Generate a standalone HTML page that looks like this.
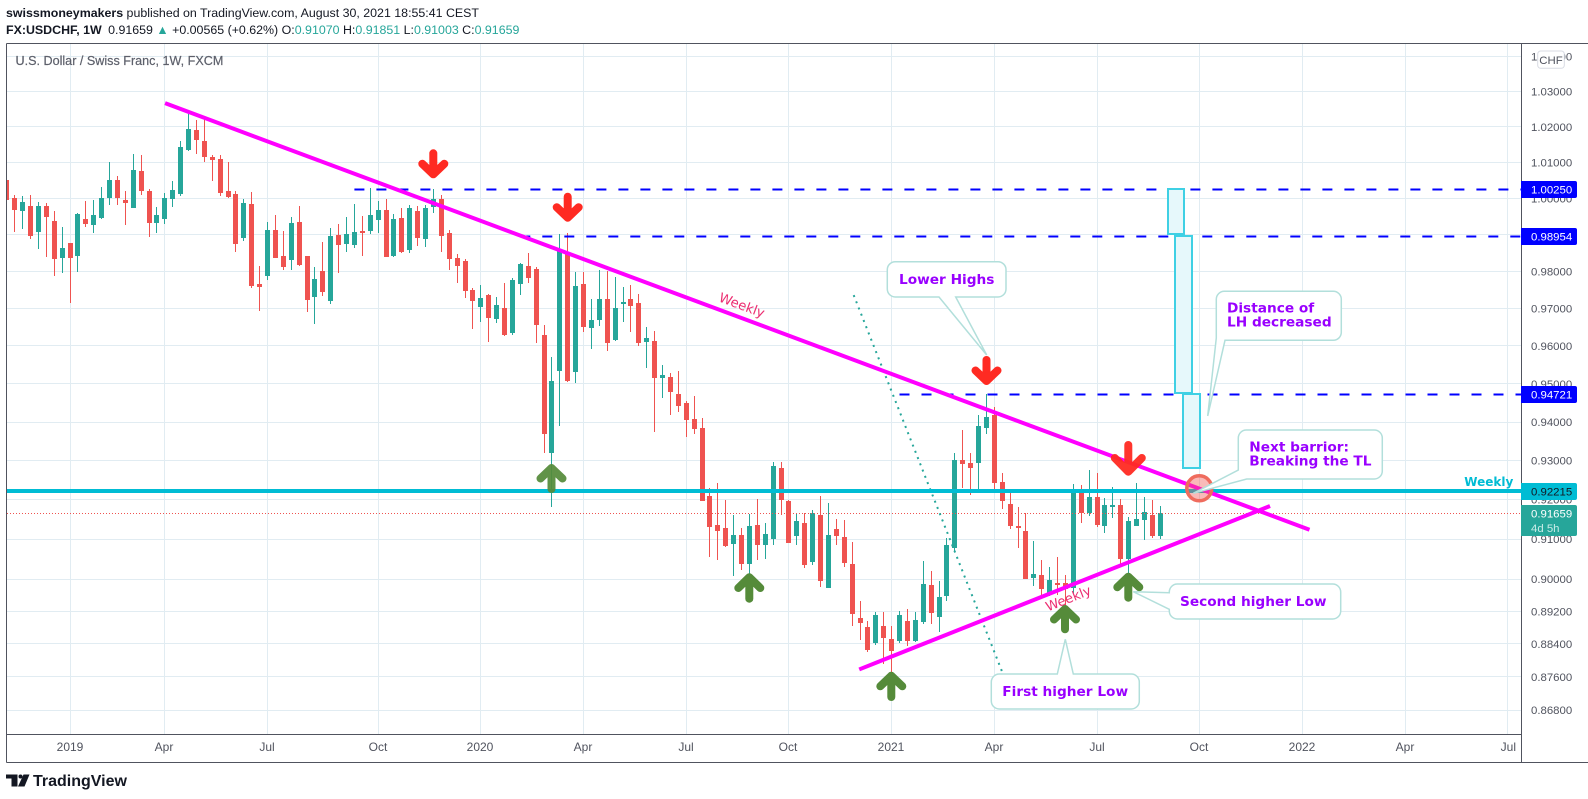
<!DOCTYPE html>
<html lang="en">
<head>
<meta charset="utf-8">
<title>USDCHF 1W chart</title>
<style>
html,body{margin:0;padding:0;background:#fff;}
svg{display:block;}
text{font-family:"Liberation Sans",sans-serif;}
.ann{font-family:"DejaVu Sans","Liberation Sans",sans-serif;font-weight:bold;font-size:13.7px;fill:#9900ff;}
.callout{fill:#fff;stroke:#b2dfdb;stroke-width:1.5;}
.rng{fill:#e6f8fb;stroke:#3fd0e4;stroke-width:2;}
</style>
</head>
<body>
<svg id="c" width="1588" height="799" viewBox="0 0 1588 799" xmlns="http://www.w3.org/2000/svg">
  <rect width="1588" height="799" fill="#fff"/>
  <text x="6" y="17" font-size="12.4" fill="#131722"><tspan font-weight="bold">swissmoneymakers</tspan> published on TradingView.com, August 30, 2021 18:55:41 CEST</text>
  <text x="6" y="34" font-size="12.4" fill="#131722"><tspan font-weight="bold">FX:USDCHF, 1W</tspan> <tspan dx="3">0.91659</tspan> <tspan fill="#26a69a">▲</tspan> +0.00565 (+0.62%) O:<tspan fill="#26a69a">0.91070</tspan> H:<tspan fill="#26a69a">0.91851</tspan> L:<tspan fill="#26a69a">0.91003</tspan> C:<tspan fill="#26a69a">0.91659</tspan></text>
  <g id="grid"></g>
  <text x="15.5" y="65" font-size="12.6" fill="#5d606b" stroke="#5d606b" stroke-width="0.2">U.S. Dollar / Swiss Franc, 1W, FXCM</text>
  <g id="candles"></g>
  <g id="lines"></g>

  <rect class="rng" x="1168" y="189" width="16" height="45"/>
  <rect class="rng" x="1175" y="236" width="17" height="157"/>
  <rect class="rng" x="1183" y="394" width="17" height="74"/>

  <circle cx="1199.3" cy="488.3" r="12.5" fill="#ef5350" fill-opacity="0.4" stroke="#ef6c5e" stroke-width="3.5"/>

  <text transform="translate(741.7 305.7) rotate(20.4)" text-anchor="middle" dominant-baseline="middle" style="font-family:'DejaVu Sans',sans-serif" font-size="13.2" fill="#ec2f72">Weekly</text>
  <text transform="translate(1068.5 599) rotate(-21.7)" text-anchor="middle" dominant-baseline="middle" style="font-family:'DejaVu Sans',sans-serif" font-size="13.2" fill="#ec2f72">Weekly</text>
  <text x="1464.3" y="486" style="font-family:'DejaVu Sans',sans-serif" font-size="12" font-weight="bold" fill="#00bcd4">Weekly</text>

  <g fill="none" stroke="#ff2a22" stroke-width="8" stroke-linecap="round" stroke-linejoin="round">
    <path d="M433.3 153.3V174.3M422.3 163.8L433.3 174.3L444.3 163.8"/>
    <path d="M567.7 196.7V217.7M556.7 207.2L567.7 217.7L578.7 207.2"/>
    <path d="M986.5 360V381M975.5 370.5L986.5 381L997.5 370.5"/>
    <path d="M1128.3 445V471.7M1114.8 458L1128.3 471.7L1141.8 458" stroke-opacity="0.95"/>
  </g>
  <g fill="none" stroke="#558b3a" stroke-width="8" stroke-linecap="round" stroke-linejoin="round">
    <path d="M551.5 489V468M540.5 478.5L551.5 468L562.5 478.5" stroke-opacity="0.93"/>
    <path d="M749.3 598.7V577.3M738.3 588L749.3 577.3L760.3 588"/>
    <path d="M891.3 697V675.7M880.3 686.3L891.3 675.7L902.3 686.3"/>
    <path d="M1065 629.3V609M1054 619.5L1065 609L1076 619.5"/>
    <path d="M1128.3 597.7V576.7M1117.3 587.2L1128.3 576.7L1139.3 587.2"/>
  </g>

  <path class="callout" d="M895.3 261.7H998a8 8 0 0 1 8 8V289a8 8 0 0 1-8 8H955.7L986.7 355L939 297H895.3a8 8 0 0 1-8-8V269.7a8 8 0 0 1 8-8Z"/>
  <text class="ann" x="899" y="284">Lower Highs</text>

  <path class="callout" d="M1224.3 291.3H1333.3a8 8 0 0 1 8 8V332.3a8 8 0 0 1-8 8H1225L1207.7 416L1216.3 338V299.3a8 8 0 0 1 8-8Z"/>
  <text class="ann" x="1227" y="312.5">Distance of</text>
  <text class="ann" x="1227" y="326.5">LH decreased</text>

  <path class="callout" d="M1246.3 430H1374.3a8 8 0 0 1 8 8V471a8 8 0 0 1-8 8H1246.7L1193.3 493.3L1238.3 470V438a8 8 0 0 1 8-8Z"/>
  <text class="ann" x="1249.3" y="451.5">Next barrior:</text>
  <text class="ann" x="1249.3" y="465.7">Breaking the TL</text>

  <path class="callout" d="M1177.3 584H1332.7a8 8 0 0 1 8 8V611a8 8 0 0 1-8 8H1177.3a8 8 0 0 1-8-8V609.3L1133.3 591.7L1169.3 592.7V592a8 8 0 0 1 8-8Z"/>
  <text class="ann" x="1180" y="606">Second higher Low</text>

  <path class="callout" d="M999.3 674H1057.3L1065.3 639.3L1073.3 674H1131.3a8 8 0 0 1 8 8V701a8 8 0 0 1-8 8H999.3a8 8 0 0 1-8-8V682a8 8 0 0 1 8-8Z"/>
  <text class="ann" x="1002.3" y="696">First higher Low</text>

  <g id="axes"></g>

  <g fill="#131722">
    <path d="M6 774.5H17.5V786.5H11.5V778.5H6Z"/>
    <circle cx="20.5" cy="776.5" r="2"/>
    <path d="M23.5 774.5H29.5L24.5 786.5H18Z"/>
  </g>
  <text x="33" y="786" font-size="16" font-weight="bold" fill="#131722">TradingView</text>
</svg>
<script>
// ---- chart data: weekly OHLC (first bar is index 0) ----
const opens = [1.0051,1.0001,.9965,.9979,.9908,.9979,.9938,.9837,.9877,.9842,.9943,.9927,.9946,1.0001,1.0051,.9996,.9974,1.0076,1.0020,.9932,.9943,.9998,1.0012,1.0134,1.0192,1.0159,1.0114,1.0109,1.0020,1.0012,.9891,.9985,.9766,.9788,.9913,.9842,.9831,.9935,.9842,.9731,.9801,.9720,.9899,.9875,.9872,.9910,.9910,.9941,.9968,.9842,
.9946,.9858,.9965,.9888,.9976,.9998,.9905,.9837,.9829,.9750,.9704,.9737,.9672,.9701,.9634,.9766,.9815,.9806,.9629,.9321,.9534,.9851,.9531,.9766,.9648,.9669,.9725,.9616,.9712,.9725,.9715,.9610,.9613,.9515,.9518,.9473,.9450,.9408,
.9385,.9209,.9136,.9128,.9088,.9111,.9038,.9136,.9086,.9100,.9281,.9197,.9108,.9141,.9043,.9161,.8978,.9126,.9106,.9038,.8904,.8882,.8843,.8884,.8852,.8848,.8896,.8848,.8894,.8986,.8906,.8958,.9078,.9302,.9294,.9294,.9385,.9418,
.9245,.9189,.9133,.9121,.9003,.9010,.8963,.8991,.8991,.8978,.9222,.9166,.9207,.9133,.9182,.9187,.9051,.9133,.9149,.9161,.91070];
const highs = [1.0051,1.0009,1.0007,1.0009,.9990,.9987,.9965,.9921,.9877,.9960,.9993,.9996,1.0031,1.0100,1.0062,1.0020,1.0125,1.0120,1.0026,.9976,1.0015,1.0048,1.0159,1.0238,1.0218,1.0226,1.0122,1.0122,1.0100,1.0020,.9998,1.0018,.9815,.9935,.9954,.9910,.9949,.9979,.9842,.9812,.9880,.9918,.9930,.9949,.9985,.9952,1.0029,.9993,.9998,.9957,
.9974,.9982,.9979,.9982,1.0026,1.0009,.9913,.9848,.9834,.9755,.9764,.9739,.9731,.9769,.9782,.9823,.9851,.9812,.9656,.9571,.9902,.9905,.9798,.9798,.9725,.9804,.9801,.9785,.9758,.9764,.9739,.9651,.9640,.9550,.9528,.9534,.9455,.9468,
.9410,.9230,.9243,.9200,.9161,.9128,.9164,.9202,.9141,.9297,.9297,.9200,.9166,.9166,.9174,.9209,.9192,.9151,.9149,.9093,.8946,.8896,.8919,.8919,.8884,.8921,.8926,.8919,.9046,.9021,.8996,.9103,.9320,.9378,.9320,.9418,.9472,.9439,
.9269,.9217,.9181,.9166,.9095,.9048,.9031,.9056,.9010,.9240,.9238,.9276,.9269,.9204,.9233,.9202,.9156,.9243,.9207,.9200,.91851];
const lows = [.9996,.9908,.9916,.9888,.9861,.9839,.9788,.9796,.9715,.9798,.9921,.9905,.9943,.9982,.9982,.9927,.9974,1.0009,.9894,.9905,.9930,.9976,1.0007,1.0131,1.0125,1.0100,1.0048,1.0007,1.0001,.9853,.9883,.9755,.9693,.9777,.9837,.9804,.9804,.9815,.9691,.9658,.9734,.9712,.9796,.9853,.9864,.9842,.9902,.9905,.9839,.9839,
.9851,.9851,.9870,.9867,.9960,.9853,.9804,.9769,.9729,.9645,.9664,.9610,.9661,.9626,.9629,.9737,.9769,.9608,.9320,.9182,.9390,.9505,.9502,.9637,.9592,.9653,.9587,.9613,.9664,.9637,.9600,.9542,.9374,.9463,.9418,.9426,.9361,.9369,
.9197,.9056,.9048,.9081,.9008,.9023,.8996,.9048,.9051,.9086,.9161,.9090,.9086,.9028,.9036,.8981,.8978,.9086,.9031,.8884,.8850,.8821,.8838,.8791,.8755,.8843,.8836,.8846,.8889,.8889,.8869,.8946,.9068,.9230,.9212,.9220,.9369,.9227,
.9177,.9126,.9078,.9000,.8983,.8958,.8958,.8961,.8923,.8963,.9141,.9159,.9131,.9116,.9154,.9038,.9016,.9133,.9098,.9103,.91003];
const closes = [.9996,.9968,.9990,.9896,.9979,.9949,.9834,.9864,.9837,.9957,.9930,.9954,1.0001,1.0051,1.0001,.9987,1.0078,1.0020,.9932,.9954,1.0001,1.0023,1.0142,1.0195,1.0162,1.0114,1.0106,1.0015,1.0004,.9875,.9987,.9761,.9758,.9913,.9837,.9812,.9932,.9817,.9723,.9779,.9745,.9896,.9872,.9902,.9908,.9905,.9954,.9968,.9839,.9943,
.9853,.9974,.9891,.9974,.9998,.9896,.9834,.9815,.9748,.9720,.9728,.9675,.9709,.9629,.9777,.9820,.9782,.9656,.9369,.9507,.9856,.9507,.9761,.9651,.9669,.9725,.9608,.9701,.9717,.9707,.9608,.9621,.9515,.9523,.9479,.9442,.9405,.9383,
.9197,.9131,.9121,.9083,.9111,.9038,.9133,.9086,.9113,.9286,.9200,.9090,.9146,.9036,.9166,.8996,.9111,.9108,.9041,.8914,.8891,.8826,.8911,.8855,.8823,.8911,.8848,.8899,.8988,.8916,.8956,.9086,.9302,.9292,.9281,.9390,.9413,.9243,
.9197,.9133,.9128,.9000,.9013,.8976,.8998,.8986,.8976,.9227,.9166,.9207,.9136,.9187,.9187,.9051,.9146,.9151,.9169,.9108,.91659];

const priceTicks = [1.04,1.03,1.02,1.01,1.00,0.99,0.98,0.97,0.96,0.95,0.94,0.93,0.92,0.91,0.90,0.892,0.884,0.876,0.868];
const timeTickWeeks = [8,20,33,47,60,73,86,99,112,125,138,151,164,177,190];
const timeTickLabels = ["2019","Apr","Jul","Oct","2020","Apr","Jul","Oct","2021","Apr","Jul","Oct","2022","Apr","Jul"];

const levelPrices = [1.0025,0.98954,0.94721];
const levelStartWeeks = [44,65,113];
const supportPrice = 0.92215;
const lastPrice = 0.91659;
const upperTrendWeeks = [20.03,164.9];
const upperTrendPrices = [1.0267,0.9124];
const lowerTrendWeeks = [107.9,159.9];
const lowerTrendPrices = [0.8778,0.9184];
const dottedTrendWeeks = [107.2,126];
const dottedTrendPrices = [0.9736,0.8772];

// ---- axis functions ----
function xAt(week){return 6.8+7.9*week;}
function yAt(price){return 198.4-3614*Math.log(price);}

const NS='http://www.w3.org/2000/svg';
function mk(parent,tag,props,txt){
  const e=document.createElementNS(NS,tag);
  for(const k in props)e.setAttribute(k,props[k]);
  if(txt!==undefined)e.textContent=txt;
  parent.appendChild(e);
  return e;
}
const gridG=document.getElementById('grid');
const candleG=document.getElementById('candles');
const lineG=document.getElementById('lines');
const axesG=document.getElementById('axes');
const GRID='#e1ecf2',AX='#50535e',UP='#26a69a',DOWN='#ef5350';

// grid
priceTicks.forEach(function(p){
  const el=mk(gridG,'rect',{x:7,y:Math.floor(yAt(p)),width:1514,height:1,fill:GRID});
  
  
});
timeTickWeeks.forEach(function(w){
  const el=mk(gridG,'rect',{x:Math.floor(xAt(w)),y:44,width:1,height:690,fill:GRID});
  
  
});

// candles
opens.forEach(function(o,i){
  const c=closes[i],h=highs[i],l=lows[i];
  const col=c>=o?UP:DOWN;
  const px=Math.floor(xAt(i));
  const yH=Math.round(yAt(h)),yL=Math.round(yAt(l));
  const yT=Math.round(yAt(Math.max(o,c))),yB=Math.round(yAt(Math.min(o,c)));
  const wick=mk(candleG,'rect',{x:px,y:yH,width:1,height:Math.max(1,yL-yH),fill:col});
  
  
  const bx=Math.max(7,px-2);
  const body=mk(candleG,'rect',{x:bx,y:yT,width:px+3-bx,height:Math.max(1,yB-yT),fill:col});
  
  
});

// drawings
const lastLine=mk(lineG,'line',{x1:7,x2:1521,y1:Math.floor(yAt(lastPrice))+.5,y2:Math.floor(yAt(lastPrice))+.5,stroke:DOWN,'stroke-width':1,'stroke-dasharray':'1 2'});



const dotted=mk(lineG,'line',{x1:xAt(dottedTrendWeeks[0]),y1:yAt(dottedTrendPrices[0]),x2:xAt(dottedTrendWeeks[1]),y2:yAt(dottedTrendPrices[1]),stroke:UP,'stroke-width':2,'stroke-dasharray':'2 4.7'});



levelPrices.forEach(function(p,i){
  const yy=Math.floor(yAt(p))+.5;
  const el=mk(lineG,'line',{x1:xAt(levelStartWeeks[i]),x2:1521,y1:yy,y2:yy,stroke:'#0000ff','stroke-width':2,'stroke-dasharray':'10 12'});
  
  
});

const sup=mk(lineG,'rect',{x:7,y:Math.floor(yAt(supportPrice))-2,width:1514,height:4,fill:'#00bcd4'});



const upperLine=mk(lineG,'line',{x1:xAt(upperTrendWeeks[0]),y1:yAt(upperTrendPrices[0]),x2:xAt(upperTrendWeeks[1]),y2:yAt(upperTrendPrices[1]),stroke:'#ff00ff','stroke-width':4});


const lowerLine=mk(lineG,'line',{x1:xAt(lowerTrendWeeks[0]),y1:yAt(lowerTrendPrices[0]),x2:xAt(lowerTrendWeeks[1]),y2:yAt(lowerTrendPrices[1]),stroke:'#ff00ff','stroke-width':4});



// axes / frame
const frame=mk(axesG,'path',{d:'M6.5 43.5H1588M6.5 43.5V762.5M6.5 734.5H1521.5M6.5 762.5H1588M1521.5 43.5V762.5',fill:'none',stroke:AX,'stroke-width':1});



priceTicks.forEach(function(p){
  const t=mk(axesG,'text',{x:1531,y:yAt(p)+4,'font-size':11.4,fill:AX},p.toFixed(5));
  
  
});
timeTickWeeks.forEach(function(w,i){
  const t=mk(axesG,'text',{x:Math.floor(xAt(w)),y:751,'font-size':12,'text-anchor':i===14?'end':'middle',fill:AX},timeTickLabels[i]);
  if(i===14)t.setAttribute('x',1516);
  
  
});

function priceTag(p,bg,fg){
  const yy=Math.floor(yAt(p));
  const b=mk(axesG,'path',{d:'M1521 '+(yy-8)+'H1575a2 2 0 0 1 2 2V'+(yy+7)+'a2 2 0 0 1-2 2H1521Z',fill:bg});
  
  
  const t=mk(axesG,'text',{x:1531,y:yy+4.5,'font-size':11.4,fill:fg},p.toFixed(5));
  
  
}
levelPrices.forEach(function(p){priceTag(p,'#0000ff','#fff');});
priceTag(supportPrice,'#00bcd4','#131722');

// last price tag
(function(){
  const yy=Math.floor(yAt(lastPrice));
  const b=mk(axesG,'path',{d:'M1521 '+(yy-8)+'H1575a2 2 0 0 1 2 2V'+(yy+21)+'a2 2 0 0 1-2 2H1521Z',fill:UP});
  
  
  const t1=mk(axesG,'text',{x:1531,y:yy+4.5,'font-size':11.4,fill:'#fff'},lastPrice.toFixed(5));
  
  
  const t2=mk(axesG,'text',{x:1531,y:yy+19,'font-size':11.4,fill:'#c9ece8'},'4d 5h');
  
  
})();

// currency badge
const chf=mk(axesG,'rect',{x:1537.7,y:51,width:26.6,height:17.3,rx:3,fill:'#fff',stroke:'#d8dbe3'});


const chfT=mk(axesG,'text',{x:1551,y:64,'font-size':11.4,'text-anchor':'middle',fill:AX},'CHF');


</script>
</body>
</html>
